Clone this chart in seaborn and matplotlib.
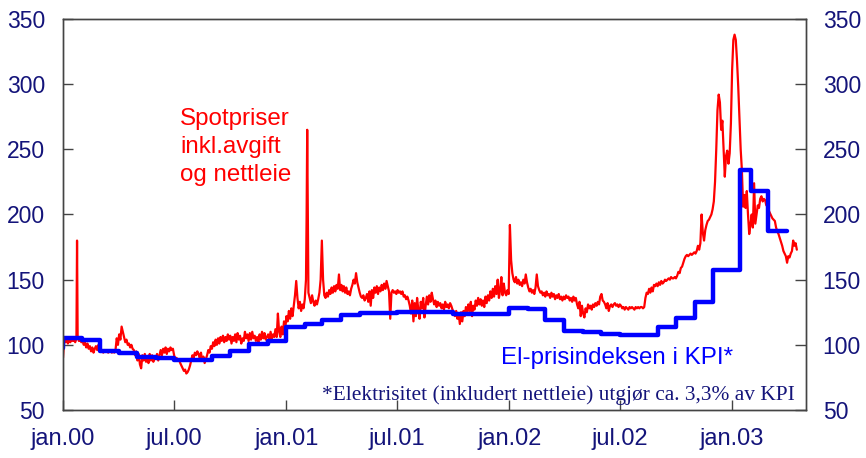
import numpy as np
import pandas as pd
import matplotlib
matplotlib.use("Agg")
import matplotlib.pyplot as plt
import seaborn as sns

# ---------------- data ----------------
# Daily spot price index (incl. taxes and grid rent), read every 2nd day from 2000-01-01
spot_start = "2000-01-01"
spot_val = [
    90, 104, 102, 105, 101, 104, 102, 105, 103, 104, 102, 105, 106, 103, 104, 102, 103, 100, 102, 98, 101, 97, 99, 95, 98, 94, 97, 99, 96, 100, 98,
    95, 96, 94, 96, 95, 96, 94, 95, 96, 94, 95, 94, 96, 105, 100, 108, 104, 114, 110, 106, 102, 104, 100, 101, 98, 100, 97, 96, 92, 95,
    88, 93, 85, 82, 92, 88, 93, 87, 91, 86, 93, 88, 92, 87, 91, 89, 93, 88, 92, 96, 92, 97, 94, 98, 93, 97, 95, 98, 96, 97,
    92, 89, 90, 88, 89, 86, 84, 82, 80, 81, 78, 79, 81, 84, 88, 92, 90, 94, 92, 95, 93, 90, 94, 88, 91, 86, 89, 92, 96, 94,
    99, 97, 102, 99, 104, 100, 105, 101, 106, 103, 107, 102, 106, 103, 108, 104, 107, 101, 106, 103, 108, 102, 109, 104, 107, 101, 105, 103, 110, 105,
    108, 103, 109, 104, 110, 105, 107, 103, 106, 102, 108, 104, 110, 105, 109, 104, 106, 108, 104, 110, 105, 108, 106, 112, 106, 124, 110, 106, 114, 108,
    118, 112, 122, 118, 126, 120, 128, 122, 130, 138, 149, 136, 128, 133, 126, 131, 128, 135, 150, 265, 140, 136, 132, 138, 133, 130, 134, 131, 135, 140,
    150, 180, 150, 138, 136, 140, 137, 142, 139, 144, 140, 145, 141, 146, 143, 154, 142, 146, 141, 145, 140, 144, 139, 141, 138, 143, 146, 150, 147, 155,
    148, 144, 140, 137, 136, 138, 134, 136, 139, 133, 141, 130, 142, 136, 144, 140, 145, 139, 144, 141, 146, 142, 147, 143, 149, 145, 141, 120, 140, 142,
    140, 141, 139, 142, 140, 141, 139, 141, 137, 138, 135, 137, 134, 130, 124, 134, 118, 132, 122, 136, 127, 120, 133, 128, 136, 121, 130, 137, 131, 138,
    133, 140, 135, 131, 134, 129, 133, 130, 132, 128, 131, 127, 133, 129, 131, 128, 132, 130, 127, 125, 122, 126, 120, 124, 116, 125, 118, 126, 122, 129,
    124, 131, 126, 133, 122, 130, 127, 134, 130, 136, 131, 135, 130, 134, 129, 137, 132, 138, 134, 141, 136, 143, 137, 145, 139, 150, 136, 142, 152, 138,
    147, 140, 138, 142, 139, 192, 165, 155, 150, 148, 152, 147, 150, 146, 148, 145, 150, 147, 154, 148, 144, 141, 143, 140, 142, 139, 144, 154, 145, 142,
    140, 141, 138, 140, 137, 141, 138, 139, 136, 140, 137, 139, 135, 138, 136, 139, 135, 137, 134, 137, 135, 138, 136, 137, 134, 136, 133, 137, 134, 136,
    131, 128, 133, 122, 130, 124, 121, 128, 125, 131, 128, 130, 127, 131, 129, 132, 130, 133, 131, 137, 139, 134, 133, 131, 128, 132, 126, 130, 131, 129,
    131, 132, 130, 131, 129, 131, 130, 128, 129, 127, 129, 128, 127, 129, 128, 129, 128, 127, 129, 128, 129, 128, 129, 129, 128, 129, 136, 140, 139, 143,
    140, 144, 141, 146, 145, 147, 145, 148, 146, 149, 147, 148, 150, 149, 150, 151, 150, 152, 151, 151, 152, 151, 153, 156, 155, 159, 160, 163, 166, 168,
    169, 168, 169, 170, 169, 170, 171, 170, 172, 176, 173, 178, 200, 186, 180, 188, 192, 195, 196, 198, 200, 204, 210, 225, 250, 280, 292, 286, 265, 272,
    250, 229, 245, 249, 239, 247, 270, 311, 334, 338, 334, 318, 298, 275, 250, 234, 206, 215, 205, 218, 200, 185, 192, 200, 190, 224, 193, 200, 207, 205,
    212, 214, 210, 212, 211, 207, 209, 203, 201, 199, 197, 196, 195, 190, 187, 185, 182, 179, 176, 172, 170, 168, 163, 168, 167, 170, 172, 180, 176, 178, 173,
]
# single-day spikes (day offset from start, value)
spike_day = [23, 399, 401]
spike_val = [180, 198, 200]

# Electricity price index in CPI (monthly steps)
kpi_regular_months = pd.date_range("1999-12-01", "2002-12-01", freq="MS")
kpi_extra_dates = ["2003-01-14", "2003-02-01", "2003-03-01", "2003-04-01"]
kpi_val = [
    97.5,
    105.0, 103.7, 95.3, 93.8, 91.0, 90.1, 88.4, 88.4, 91.6, 95.3, 100.6, 102.9,
    113.5, 115.8, 119.4, 122.9, 124.2, 124.2, 125.4, 125.4, 125.4, 124.0, 124.0, 124.0,
    128.0, 127.2, 119.0, 110.8, 110.2, 108.6, 107.5, 107.5, 113.9, 120.3, 132.6, 157.6,
    234.0, 218.0, 187.3, 187.3,
]

xtick_dates = ["2000-01-01", "2000-07-01", "2001-01-01", "2001-07-01",
               "2002-01-01", "2002-07-01", "2003-01-01"]
xtick_labels = ["jan.00", "jul.00", "jan.01", "jul.01", "jan.02", "jul.02", "jan.03"]
yticks = [50, 100, 150, 200, 250, 300, 350]

# ---------------- frames ----------------
spot_dates = pd.date_range(spot_start, periods=len(spot_val), freq="2D")
spot_df = pd.DataFrame({"date": spot_dates, "value": spot_val})
spike_df = pd.DataFrame({
    "date": pd.Timestamp(spot_start) + pd.to_timedelta(spike_day, unit="D"),
    "value": spike_val,
})
spot_df = pd.concat([spot_df, spike_df]).sort_values("date").reset_index(drop=True)

kpi_dates = list(kpi_regular_months) + [pd.Timestamp(d) for d in kpi_extra_dates]
kpi_df = pd.DataFrame({"date": kpi_dates, "value": kpi_val})

# ---------------- style ----------------
sns.set_style("white")
plt.rcParams["font.family"] = ["Liberation Sans", "DejaVu Sans"]

navy = "#14147a"
red = "#ff0000"
blue = "#0000ff"
frame = "#444444"

fig = plt.figure(figsize=(8.66, 4.58), dpi=100)
ax = fig.add_axes([63 / 866, 48 / 458, 743 / 866, 391 / 458])

sns.lineplot(data=spot_df, x="date", y="value", ax=ax, color=red,
             linewidth=1.6, estimator=None)
sns.lineplot(data=kpi_df, x="date", y="value", ax=ax, color=blue,
             linewidth=3.2, estimator=None, drawstyle="steps-post")

ax.set_xlim(pd.Timestamp("2000-01-01"), pd.Timestamp("2003-05-02"))
ax.set_ylim(50, 350)
ax.set_yticks(yticks)
ax.set_xticks([pd.Timestamp(d) for d in xtick_dates])
ax.set_xticklabels(xtick_labels)
ax.set_xlabel("")
ax.set_ylabel("")
ax.grid(False)

ax2 = ax.twinx()
ax2.set_ylim(50, 350)
ax2.set_yticks(yticks)
ax2.set_ylabel("")
ax2.grid(False)

for a in (ax, ax2):
    for s in a.spines.values():
        s.set_visible(True)
        s.set_color(frame)
        s.set_linewidth(1.0)

ax.tick_params(axis="y", direction="in", length=7, width=1, color=frame,
               labelsize=16.5, labelcolor=navy, pad=13, left=True)
ax.tick_params(axis="x", direction="in", length=7, width=1, color=frame,
               labelsize=17, labelcolor=navy, pad=13, bottom=True)
ax2.tick_params(axis="y", direction="in", length=8, width=1, color=frame,
                labelsize=16.5, labelcolor=navy, pad=12, right=True)

ax.text(0.1575, 0.772, "Spotpriser\ninkl.avgift\nog nettleie", transform=ax.transAxes,
        color=red, fontsize=17.4, ha="left", va="top", linespacing=1.36)
ax.text(0.902, 0.133, "El-prisindeksen i KPI*", transform=ax.transAxes,
        color=blue, fontsize=17.4, ha="right", va="center")
ax.text(0.985, 0.038, "*Elektrisitet (inkludert nettleie) utgjør ca. 3,3% av KPI",
        transform=ax.transAxes, family=["Liberation Serif", "DejaVu Serif"],
        fontsize=15.4, color=navy, ha="right", va="center")

fig.savefig("out.png", dpi=100)
